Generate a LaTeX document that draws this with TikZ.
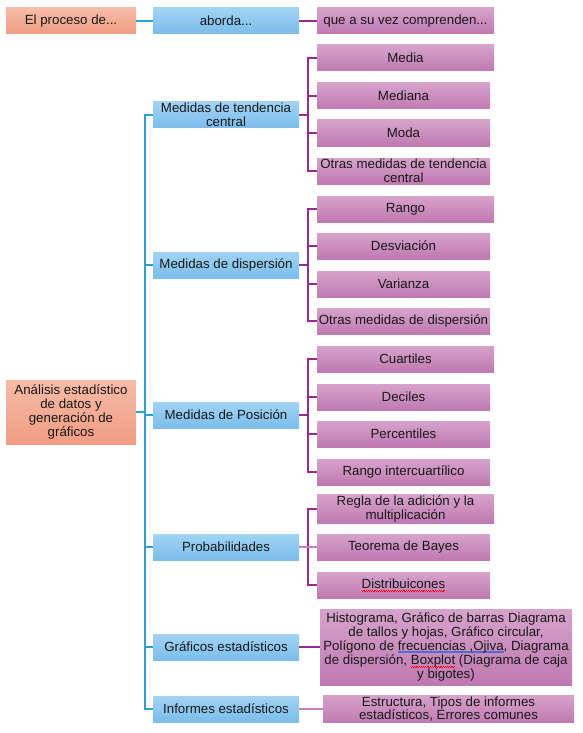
\documentclass[tikz,border=0pt]{standalone}
\usepackage{fontspec}
\setmainfont{Liberation Sans}
\definecolor{salmonT}{HTML}{F6BCA8}
\definecolor{salmonB}{HTML}{F09C82}
\definecolor{blueT}{HTML}{A2D3F4}
\definecolor{blueB}{HTML}{7BBDEB}
\definecolor{purT}{HTML}{D6A3CB}
\definecolor{purB}{HTML}{BF79B1}
\definecolor{trunk}{HTML}{2E9FD6}
\definecolor{plum}{HTML}{992A8E}
\definecolor{lightplum}{HTML}{C97DBB}
\definecolor{gramblue}{HTML}{4A6FD0}
% spelling and grammar marks under words
\newsavebox\markbox
\newcommand\spellmark[1]{\sbox\markbox{#1}\rlap{\textcolor{red}{\hbox to\wd\markbox{\xleaders\hbox{\rule[-3pt]{0.9pt}{0.6pt}\rule[-2.3pt]{0.9pt}{0.6pt}}\hfil}}}\usebox\markbox}
\newcommand\grammark[1]{\sbox\markbox{#1}\rlap{\textcolor{gramblue}{\rule[-2.5pt]{\wd\markbox}{2pt}}}\usebox\markbox}
\begin{document}
\begin{tikzpicture}[x=1pt,y=-1pt,
  box/.style={inner sep=1pt, align=center, font=\fontsize{13.3}{13.8}\selectfont, text=black!90},
  sbox/.style={box, top color=salmonT, bottom color=salmonB, minimum width=130pt, minimum height=26pt},
  bbox/.style={box, top color=blueT, bottom color=blueB, minimum width=146pt, minimum height=26pt},
  pbox/.style={box, top color=purT, bottom color=purB, minimum width=173pt, minimum height=26pt},
  pwide/.style={pbox, minimum width=177pt},
  bline/.style={draw=trunk, line width=1.9pt},
  pline/.style={draw=plum, line width=1.6pt},
  lline/.style={draw=lightplum, line width=1.9pt}]
\useasboundingbox (0,0) rectangle (582,733);

% header row
\node[sbox] (proc) at (71,21) {El proceso de...};
\node[bbox] (abor) at (226,21) {aborda...};
\node[pwide] (comp) at (405.5,21) {que a su vez comprenden...};
\draw[bline] (proc.east) -- (abor.west);
\draw[pline] (abor.east) -- (comp.west);

% root
\node[sbox, minimum height=64pt] (root) at (71,412) {Análisis estadístico\\de datos y\\generación de\\gráficos};

% second level
\node[bbox] (mtc) at (226,115) {Medidas de tendencia\\central};
\node[bbox] (mdi) at (226,265) {Medidas de dispersión};
\node[bbox] (mpo) at (226,415) {Medidas de Posición};
\node[bbox] (pro) at (226,547) {Probabilidades};
\node[bbox] (gra) at (226,647) {Gráficos estadísticos};
\node[bbox] (inf) at (226,709) {Informes estadísticos};

\foreach \n in {mtc,mdi,mpo,pro,gra,inf}
  \draw[bline] (root.east) -- ++(9,0) |- (\n.west);

% tendencia central
\node[pwide] (media) at (405.5,58) {Media};
\node[pbox] (mediana) at (403.5,96) {Mediana};
\node[pbox] (moda) at (403.5,133) {Moda};
\node[pbox] (otc) at (403.5,171) {Otras medidas de tendencia\\central};
\foreach \n in {media,mediana,moda,otc}
  \draw[pline] (mtc.east) -- ++(9,0) |- (\n.west);

% dispersion
\node[pwide] (rango) at (405.5,209) {Rango};
\node[pbox] (desv) at (403.5,246) {Desviación};
\node[pbox] (var) at (403.5,284) {Varianza};
\node[pbox] (odi) at (403.5,321) {Otras medidas de dispersión};
\foreach \n in {rango,desv,var,odi}
  \draw[pline] (mdi.east) -- ++(9,0) |- (\n.west);

% posicion
\node[pwide] (cuar) at (405.5,359) {Cuartiles};
\node[pbox] (deci) at (403.5,397) {Deciles};
\node[pbox] (perc) at (403.5,434) {Percentiles};
\node[pbox] (riq) at (403.5,472) {Rango intercuartílico};
\foreach \n in {cuar,deci,perc,riq}
  \draw[pline] (mpo.east) -- ++(9,0) |- (\n.west);

% probabilidades
\node[pwide] (regla) at (405.5,509) {Regla de la adición y la\\multiplicación};
\node[pbox] (bayes) at (403.5,547) {Teorema de Bayes};
\node[pbox] (dist) at (403.5,585) {\spellmark{Distribuicones}};
\draw[pline] (pro.east) -- ++(9,0) |- (regla.west);
\draw[pline] (pro.east) -- ++(9,0) |- (dist.west);
\draw[lline] (pro.east) -- (bayes.west);

% graficos
\node[pbox, minimum width=252pt, minimum height=76pt] (graf) at (446,647)
  {Histograma, Gráfico de barras Diagrama\\de tallos y hojas, Gráfico circular,\\Polígono de \grammark{frecuencias ,Ojiva}, Diagrama\\de dispersión, \spellmark{Boxplot} (Diagrama de caja\\y bigotes)};
\draw[pline] (gra.east) -- (graf.west);

% informes
\node[pbox, minimum width=251pt] (infb) at (448.5,709) {Estructura, Tipos de informes\\estadísticos, Errores comunes};
\draw[lline] (inf.east) -- (infb.west);
\end{tikzpicture}
\end{document}
